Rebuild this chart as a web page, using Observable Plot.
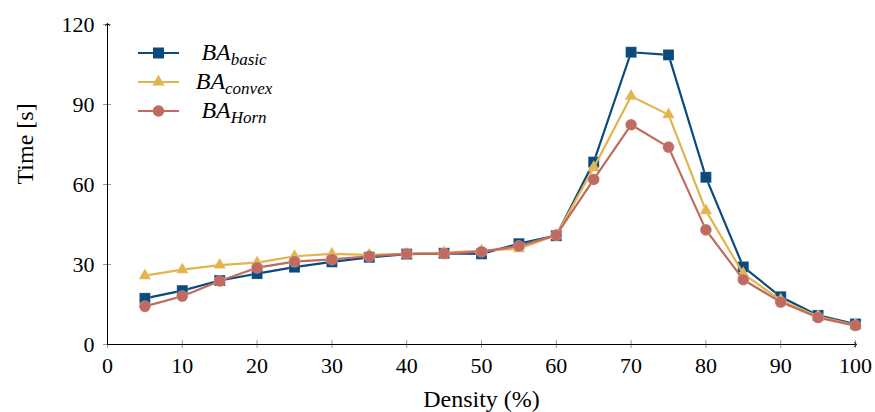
<!DOCTYPE html>
<html>
<head>
<meta charset="utf-8">
<script src="https://cdn.jsdelivr.net/npm/d3@7"></script>
<script src="https://cdn.jsdelivr.net/npm/@observablehq/plot@0.6"></script>
<style>
  body { margin: 0; background: #fff; }
  #chart { position: relative; width: 875px; height: 412px; }
  svg { font-family: "Liberation Serif", "DejaVu Serif", serif; }
</style>
</head>
<body>
<div id="chart"></div>
<script>
const density = [5,10,15,20,25,30,35,40,45,50,55,60,65,70,75,80,85,90,95,100];
const basic  = [17.3,20.2,24.0,26.6,29.0,31.0,32.7,33.9,34.2,34.0,37.8,40.8,68.4,109.6,108.6,62.7,29.1,17.9,10.9,7.7];
const convex = [25.8,28.1,29.8,30.7,33.1,34.0,33.6,34.0,34.5,35.2,35.9,41.0,66.3,93.1,86.2,50.2,26.5,16.6,10.5,7.3];
const horn   = [14.3,18.1,23.8,28.8,31.1,31.9,33.1,34.0,34.1,34.8,36.9,41.0,61.9,82.4,74.0,43.0,24.3,15.9,10.1,7.1];
const xTicks = [0,10,20,30,40,50,60,70,80,90,100];
const yTicks = [0,30,60,90,120];
const seriesNames = ["basic","convex","Horn"];
const seriesColors = ["#0b4a7c","#e3b34c","#c06a60"];
const seriesSymbols = ["square","triangle","circle"];
const seriesR = [6.2,4.6,5.8];

const rows = (vals) => density.map((d, i) => ({x: d, y: vals[i]}));
const series = [basic, convex, horn].map(rows);

const marks = [];
series.forEach((data, i) => {
  marks.push(Plot.line(data, {x: "x", y: "y", stroke: seriesColors[i], strokeWidth: 2.2}));
  marks.push(Plot.dot(data, {x: "x", y: "y", symbol: seriesSymbols[i], r: seriesR[i], fill: seriesColors[i], stroke: "white", strokeOpacity: 0.35, strokeWidth: 0.6}));
});

const chart = Plot.plot({
  width: 875,
  height: 412,
  marginLeft: 107,
  marginRight: 20,
  marginTop: 24,
  marginBottom: 68,
  style: {fontSize: "22px", fontFamily: "'Liberation Serif', serif", color: "black", background: "white"},
  x: {domain: [0, 100]},
  y: {domain: [0, 120]},
  marks: [
    Plot.axisX({ticks: xTicks, tickSize: 8, dy: -4, tickPadding: 9, stroke: "#999", fill: "black", label: null, tickFormat: d => String(d)}),
    Plot.axisY({ticks: yTicks, tickSize: 8, dx: 4, tickPadding: 9, stroke: "#999", fill: "black", label: null, tickFormat: d => String(d)}),
    Plot.link([{x1: 0, y1: 0, x2: 100, y2: 0}], {x1: "x1", y1: "y1", x2: "x2", y2: "y2", stroke: "black", strokeWidth: 1, markerEnd: "arrow"}),
    Plot.link([{x1: 0, y1: 0, x2: 0, y2: 120}], {x1: "x1", y1: "y1", x2: "x2", y2: "y2", stroke: "black", strokeWidth: 1, markerEnd: "arrow"}),
    ...marks,
    Plot.text(["Density (%)"], {frameAnchor: "bottom", dy: 55, lineAnchor: "middle", fontSize: 24, fill: "black"}),
    Plot.text(["Time [s]"], {frameAnchor: "left", dx: -82, rotate: -90, lineAnchor: "middle", fontSize: 24, fill: "black"})
  ]
});
document.getElementById("chart").appendChild(chart);

// Legend drawn into the SVG
const svg = d3.select(chart);
const lg = svg.append("g").attr("font-family", "'Liberation Serif', serif");
const rowY = [53, 82, 111];
seriesNames.forEach((name, i) => {
  const g = lg.append("g").attr("transform", `translate(0,${rowY[i]})`);
  g.append("line").attr("x1", 138).attr("x2", 179).attr("y1", 0).attr("y2", 0)
    .attr("stroke", seriesColors[i]).attr("stroke-width", 2.2);
  const sym = {square: d3.symbolSquare, triangle: d3.symbolTriangle, circle: d3.symbolCircle}[seriesSymbols[i]];
  g.append("path").attr("transform", "translate(158.5,0)")
    .attr("d", d3.symbol(sym, Math.PI * seriesR[i] * seriesR[i])())
    .attr("fill", seriesColors[i]);
  const t = g.append("text").attr("x", 234).attr("y", 0).attr("text-anchor", "middle")
    .attr("dy", "0.3em").attr("font-size", 24).attr("fill", "black");
  t.append("tspan").attr("font-style", "italic").text("BA");
  t.append("tspan").attr("font-style", "italic").attr("font-size", 17).attr("dy", 5).text(name);
});
</script>
</body>
</html>
